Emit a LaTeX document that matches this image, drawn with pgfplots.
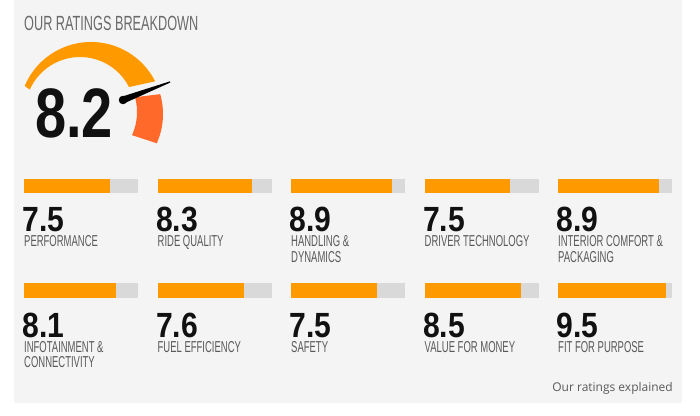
\documentclass[border=0pt]{standalone}
\usepackage{pgfplots}
\pgfplotsset{compat=1.18}
\usepackage{fontspec}
\setmainfont{Liberation Sans}
\newfontfamily\numfont{Liberation Sans}[FakeStretch=0.86]
\newfontfamily\bignumfont{Liberation Sans}[FakeStretch=0.8]
\newfontfamily\labfont{Liberation Sans}[FakeStretch=0.6]
\newfontfamily\titfont{Liberation Sans}[FakeStretch=0.62]
\newfontfamily\expfont{Open Sans}
\definecolor{bg}{HTML}{F4F4F4}
\definecolor{barfg}{HTML}{FF9900}
\definecolor{barbg}{HTML}{D9D9D9}
\definecolor{gred}{HTML}{FF6A2A}
\definecolor{labc}{HTML}{595959}
\definecolor{titc}{HTML}{6A6A6A}
\definecolor{numc}{HTML}{111111}

% #1 x, #2 bar bottom, #3 value, #4 number baseline, #5 label line 1, #6 label line 2
\newcommand\rating[6]{%
 \begin{axis}[at={(#1pt,#2pt)},anchor=south west,scale only axis,width=114pt,height=14.5pt,
   xmin=0,xmax=10,ymin=0,ymax=1,hide axis,clip=false]
  \addplot[xbar,bar width=14.5pt,bar shift=0pt,fill=barbg,draw=none] coordinates {(10,0.5)};
  \addplot[xbar,bar width=14.5pt,bar shift=0pt,fill=barfg,draw=none] coordinates {(#3,0.5)};
 \end{axis}
 \node[anchor=base west,inner sep=0pt,text depth=0pt,text=numc,font=\numfont\bfseries\fontsize{35}{35}\selectfont] at (#1-1.5,#4) {#3};
 \node[anchor=base west,inner sep=0pt,text height=11.5pt,text depth=0pt,text=labc,font=\labfont\fontsize{15.8}{16}\selectfont] at (#1,#4-15) {#5};
 \if\relax\detokenize{#6}\relax\else
 \node[anchor=base west,inner sep=0pt,text height=11.5pt,text depth=0pt,text=labc,font=\labfont\fontsize{15.8}{16}\selectfont] at (#1,#4-30) {#6};
 \fi
}

\begin{document}
\begin{tikzpicture}[x=1pt,y=1pt]
\path[use as bounding box] (0,0) rectangle (700,415);
\fill[white] (0,0) rectangle (700,415);
\fill[bg] (14,12) rectangle (682,415);

% title
\node[anchor=base west,inner sep=0pt,text=titc,font=\titfont\fontsize{20.5}{20}\selectfont] at (24,384.5) {OUR RATINGS BREAKDOWN};

% gauge arcs
\fill[barfg] ([shift={(157:72)}]91,301) arc[start angle=157,end angle=27,radius=72]
   -- ([shift={(27:55)}]80,303) arc[start angle=27,end angle=156,radius=55] -- cycle;
\fill[gred] ([shift={(16:72)}]91,301) arc[start angle=16,end angle=-24,radius=72]
   -- ([shift={(-24:57)}]80,303) arc[start angle=-24,end angle=15,radius=57] -- cycle;

% needle (overall score 8.2)
\begin{axis}[at={(0pt,0pt)},anchor=south west,scale only axis,width=700pt,height=415pt,
  xmin=0,xmax=700,ymin=0,ymax=415,hide axis]
 \addplot[fill=black,draw=none] coordinates {(121.75,318.3) (169.8,333.6) (170.3,332.5) (124.25,311.7)} -- cycle;
 \addplot[only marks,mark=*,mark size=4pt,black] coordinates {(123,315)};
\end{axis}
\node[anchor=base west,inner sep=0pt,text=numc,font=\bignumfont\bfseries\fontsize{70}{70}\selectfont] at (35,277) {8.2};

% ratings
\rating{24}{221.5}{7.5}{183}{PERFORMANCE}{}
\rating{157.5}{221.5}{8.3}{183}{RIDE QUALITY}{}
\rating{291}{221.5}{8.9}{183}{HANDLING \&}{DYNAMICS}
\rating{424.5}{221.5}{7.5}{183}{DRIVER TECHNOLOGY}{}
\rating{558}{221.5}{8.9}{183}{INTERIOR COMFORT \&}{PACKAGING}
\rating{24}{117}{8.1}{78}{INFOTAINMENT \&}{CONNECTIVITY}
\rating{157.5}{117}{7.6}{78}{FUEL EFFICIENCY}{}
\rating{291}{117}{7.5}{78}{SAFETY}{}
\rating{424.5}{117}{8.5}{78}{VALUE FOR MONEY}{}
\rating{558}{117}{9.5}{78}{FIT FOR PURPOSE}{}

\node[anchor=base east,inner sep=0pt,text=labc,font=\expfont\fontsize{12}{12}\selectfont] at (673,24) {Our ratings explained};
\end{tikzpicture}
\end{document}
